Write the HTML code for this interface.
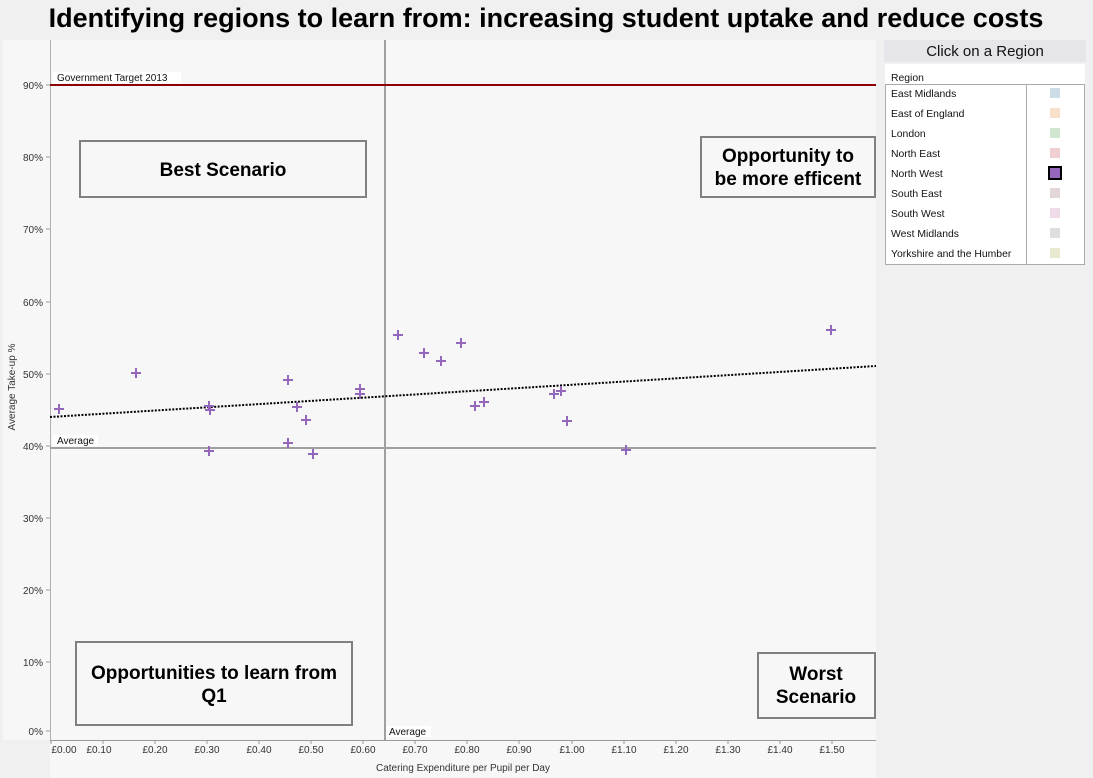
<!DOCTYPE html>
<html><head><meta charset="utf-8"><style>
body{margin:0;background:#f0f0f0;}
svg{display:block;font-family:"Liberation Sans",Arial,sans-serif;}
</style></head><body>
<svg width="1093" height="778" xmlns="http://www.w3.org/2000/svg">
<rect width="1093" height="778" fill="#f0f0f0"/>
<text x="546" y="27" text-anchor="middle" font-size="27" font-weight="bold" fill="#000">Identifying regions to learn from: increasing student uptake and reduce costs</text>
<rect x="3" y="40" width="873" height="700" fill="#f7f7f7"/>
<rect x="50" y="740" width="826" height="38" fill="#f7f7f7"/>
<line x1="50.5" y1="40" x2="50.5" y2="740" stroke="#b0b0b0"/>
<line x1="50" y1="740.5" x2="876" y2="740.5" stroke="#999"/>
<g font-size="10" fill="#333" text-anchor="end">
<text x="43" y="89">90%</text><text x="43" y="161">80%</text><text x="43" y="233">70%</text>
<text x="43" y="306">60%</text><text x="43" y="378">50%</text><text x="43" y="450">40%</text>
<text x="43" y="522">30%</text><text x="43" y="594">20%</text><text x="43" y="666">10%</text>
<text x="43" y="735">0%</text>
</g>
<g stroke="#999">
<line x1="46" y1="85" x2="50" y2="85"/><line x1="46" y1="157" x2="50" y2="157"/><line x1="46" y1="229" x2="50" y2="229"/>
<line x1="46" y1="302" x2="50" y2="302"/><line x1="46" y1="374" x2="50" y2="374"/><line x1="46" y1="446" x2="50" y2="446"/>
<line x1="46" y1="518" x2="50" y2="518"/><line x1="46" y1="590" x2="50" y2="590"/><line x1="46" y1="662" x2="50" y2="662"/>
<line x1="46" y1="731" x2="50" y2="731"/>
</g>
<g font-size="10" fill="#333" text-anchor="middle">
<text x="64" y="753">£0.00</text><text x="99" y="753">£0.10</text><text x="155" y="753">£0.20</text>
<text x="207" y="753">£0.30</text><text x="259" y="753">£0.40</text><text x="311" y="753">£0.50</text>
<text x="363" y="753">£0.60</text><text x="415" y="753">£0.70</text><text x="467" y="753">£0.80</text>
<text x="519" y="753">£0.90</text><text x="572" y="753">£1.00</text><text x="624" y="753">£1.10</text>
<text x="676" y="753">£1.20</text><text x="728" y="753">£1.30</text><text x="780" y="753">£1.40</text>
<text x="832" y="753">£1.50</text>
</g>
<g stroke="#999">
<line x1="51" y1="740" x2="51" y2="744"/><line x1="103" y1="740" x2="103" y2="744"/><line x1="155" y1="740" x2="155" y2="744"/>
<line x1="207" y1="740" x2="207" y2="744"/><line x1="259" y1="740" x2="259" y2="744"/><line x1="311" y1="740" x2="311" y2="744"/>
<line x1="363" y1="740" x2="363" y2="744"/><line x1="415" y1="740" x2="415" y2="744"/><line x1="467" y1="740" x2="467" y2="744"/>
<line x1="519" y1="740" x2="519" y2="744"/><line x1="572" y1="740" x2="572" y2="744"/><line x1="624" y1="740" x2="624" y2="744"/>
<line x1="676" y1="740" x2="676" y2="744"/><line x1="728" y1="740" x2="728" y2="744"/><line x1="780" y1="740" x2="780" y2="744"/>
<line x1="832" y1="740" x2="832" y2="744"/>
</g>
<text x="463" y="771" font-size="10" fill="#333" text-anchor="middle">Catering Expenditure per Pupil per Day</text>
<text transform="translate(15,387) rotate(-90)" font-size="10" fill="#333" text-anchor="middle">Average Take-up %</text>
<line x1="385" y1="40" x2="385" y2="740" stroke="#a0a0a0" stroke-width="2"/>
<line x1="50" y1="448" x2="876" y2="448" stroke="#a0a0a0" stroke-width="2"/>
<line x1="50" y1="85" x2="876" y2="85" stroke="#8b0000" stroke-width="2"/>
<rect x="53" y="72" width="128" height="11" fill="#fff"/>
<text x="57" y="81" font-size="10" fill="#111">Government Target 2013</text>
<rect x="53" y="435" width="45" height="11" fill="#fff"/>
<text x="57" y="444" font-size="10" fill="#111">Average</text>
<rect x="386" y="726" width="45" height="11" fill="#fff"/>
<text x="389" y="735" font-size="10" fill="#111">Average</text>
<line x1="50" y1="417" x2="876" y2="366" stroke="#000" stroke-width="2" stroke-dasharray="2,1.5"/>
<g stroke="#9467bd" stroke-width="2">
<path d="M54 409h10M59 404v10M131 373h10M136 368v10M204 406h10M209 401v10M205 410h10M210 405v10M204 451h10M209 446v10M283 380h10M288 375v10M283 443h10M288 438v10M292 407h10M297 402v10M301 420h10M306 415v10M308 454h10M313 449v10M355 389h10M360 384v10M355 394h10M360 389v10M393 335h10M398 330v10M419 353h10M424 348v10M436 361h10M441 356v10M456 343h10M461 338v10M470 406h10M475 401v10M479 402h10M484 397v10M549 394h10M554 389v10M556 391h10M561 386v10M562 421h10M567 416v10M621 450h10M626 445v10M826 330h10M831 325v10"/>
</g>
<g fill="none" stroke="#808080" stroke-width="2">
<rect x="80" y="141" width="286" height="56"/>
<rect x="701" y="137" width="174" height="60"/>
<rect x="76" y="642" width="276" height="83"/>
<rect x="758" y="653" width="117" height="65"/>
</g>
<g font-size="19" font-weight="bold" fill="#000" text-anchor="middle">
<text x="223" y="176">Best Scenario</text>
<text x="788" y="162">Opportunity to</text>
<text x="788" y="185">be more efficent</text>
<text x="214" y="679">Opportunities to learn from</text>
<text x="214" y="702">Q1</text>
<text x="816" y="680">Worst</text>
<text x="816" y="703">Scenario</text>
</g>
<rect x="884" y="40" width="202" height="22" fill="#e6e6ea"/>
<text x="985" y="56" font-size="15" fill="#111" text-anchor="middle">Click on a Region</text>
<rect x="885" y="64" width="200" height="200" fill="#fff"/>
<line x1="885" y1="84.5" x2="1085" y2="84.5" stroke="#aaa"/>
<line x1="885.5" y1="84" x2="885.5" y2="264" stroke="#aaa"/>
<line x1="1084.5" y1="84" x2="1084.5" y2="264" stroke="#aaa"/>
<line x1="885" y1="264.5" x2="1085" y2="264.5" stroke="#aaa"/>
<line x1="1026.5" y1="84" x2="1026.5" y2="264" stroke="#aaa"/>
<g font-size="10.4" fill="#111">
<text x="891" y="81">Region</text>
<text x="891" y="97">East Midlands</text>
<text x="891" y="117">East of England</text>
<text x="891" y="137">London</text>
<text x="891" y="157">North East</text>
<text x="891" y="177">North West</text>
<text x="891" y="197">South East</text>
<text x="891" y="217">South West</text>
<text x="891" y="237">West Midlands</text>
<text x="891" y="257">Yorkshire and the Humber</text>
</g>
<rect x="1050" y="88" width="10" height="10" fill="#cddde8"/>
<rect x="1050" y="108" width="10" height="10" fill="#f7dfc9"/>
<rect x="1050" y="128" width="10" height="10" fill="#d1e6d1"/>
<rect x="1050" y="148" width="10" height="10" fill="#efcfd2"/>
<rect x="1049" y="167" width="12" height="12" fill="#9467bd" stroke="#000" stroke-width="2"/>
<rect x="1050" y="188" width="10" height="10" fill="#e2d6d6"/>
<rect x="1050" y="208" width="10" height="10" fill="#f0dbe8"/>
<rect x="1050" y="228" width="10" height="10" fill="#dedede"/>
<rect x="1050" y="248" width="10" height="10" fill="#e8e9cf"/>
</svg>
</body></html>
